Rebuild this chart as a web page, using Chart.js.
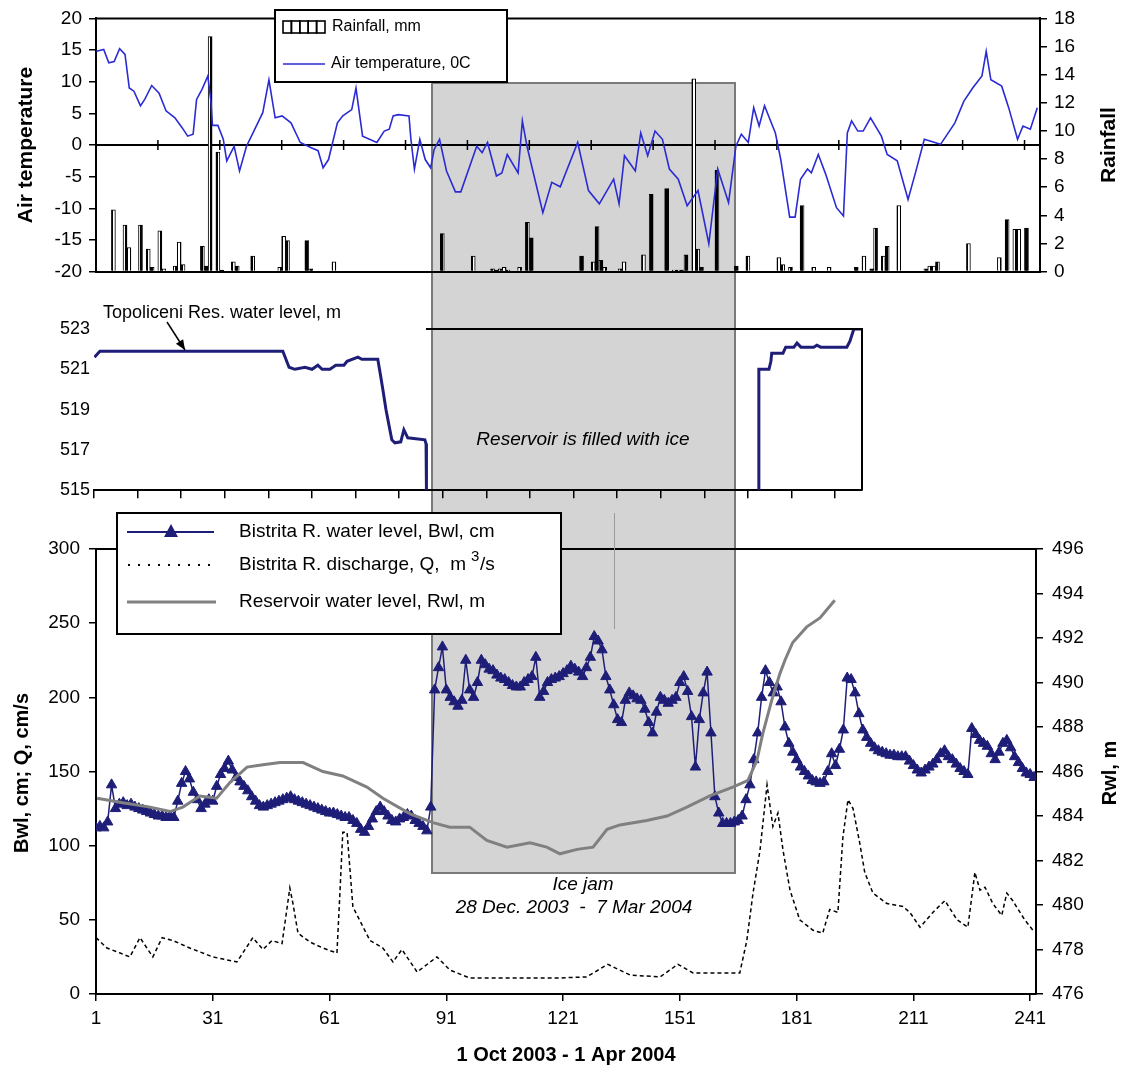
<!DOCTYPE html>
<html>
<head>
<meta charset="utf-8">
<script src="https://cdn.jsdelivr.net/npm/chart.js@4.4.0/dist/chart.umd.min.js"></script>
<style>
  body { margin: 0; background: #fff; width: 1123px; height: 1074px; position: relative; overflow: hidden; }
  canvas { position: absolute; left: 0; }
  #topChart { top: 0; }
  #midChart { top: 290px; }
  #botChart { top: 505px; }
</style>
</head>
<body>
<canvas id="topChart" width="1123" height="290"></canvas>
<canvas id="midChart" width="1123" height="215"></canvas>
<canvas id="botChart" width="1123" height="569"></canvas>
<script>
// ---------- data (days counted from 1 Oct 2003) ----------
const tempDays = [0.6, 2.5, 3.8, 5.2, 6.6, 8, 9.1, 10.3, 12, 13.1, 14.9, 16.8, 18.6, 20.9, 22.8, 24.2, 25.6, 26.5, 27.9, 29.4,
  30.2, 30.6, 32, 33.4, 34.3, 36.2, 37.6, 39.4, 41.3, 43.6, 45.2, 46.8, 48.6, 50.9, 53.3, 56, 57.9, 59.2, 60.6, 62.9,
  64.3, 66.6, 67.7, 69.4, 73.1, 75, 76.3, 77.3, 78.6, 81.4, 81.9, 82.8, 84.2, 85.6, 87, 87.9, 89.3, 91.1, 93.4, 94.8,
  98.9, 100.3, 101.7, 104, 105.4, 106.8, 109.6, 110.7, 111.9, 113.3, 116, 118.3, 120.5, 125, 127.8, 130.6, 134.3, 135.7, 137.1, 139.9,
  141.3, 143.1, 145, 146.9, 148.7, 151, 153.3, 156.1, 158.9, 161.2, 164, 165.9, 167.3, 169.1, 170.5, 171.9, 173.3, 176.1, 177.5, 179.8,
  181.2, 182.6, 184.4, 185.4, 187.2, 189.1, 191.9, 193.7, 194.7, 195.8, 197.4, 198.8, 200.7, 203.5, 205, 207.6, 210.4, 212.3, 214.6, 218.8,
  222.5, 224.8, 227.1, 229.5, 230.6, 231.8, 234.6, 236.4, 238.7, 240.1, 242, 243.8];
const tempValues = [14.8, 15.1, 13.0, 13.2, 15.2, 14.3, 9.0, 8.5, 6.2, 7.2, 9.4, 8.2, 5.4, 4.3, 2.7, 1.4, 1.7, 7.2, 8.8, 10.9,
  6.9, 3.1, 3.1, 0.9, -2.5, -0.2, -4.1, -0.2, 2.2, 5.1, 10.3, 4.3, 4.6, 3.5, 0.4, -0.4, -0.9, -3.6, -2.3, 3.5,
  4.6, 5.6, 9.0, 1.4, 0.4, 2.2, 2.5, 4.6, 4.8, 4.6, 0.9, -3.8, 0.9, -2.3, -3.6, -0.7, 0.9, -4.1, -7.4, -7.4,
  -0.2, -1.2, 0.4, -4.9, -4.4, -1.5, -4.4, 3.8, -0.2, -3.8, -10.7, -5.9, -6.6, 0.4, -7.2, -9.3, -5.4, -9.3, -1.7, -4.1,
  1.9, -1.7, 2.2, 0.9, -3.8, -5.4, -9.6, -7.2, -15.6, -3.8, -9.1, -0.2, 1.7, 0.4, 5.9, 3.0, 6.2, 1.9, -2.3, -11.4,
  -11.4, -5.4, -3.8, -4.4, -1.5, -4.6, -9.9, -11.2, 1.9, 3.8, 2.2, 2.2, 4.3, 1.4, -1.5, -2.5, -8.6, -4.4, 0.9, 0.1,
  3.5, 6.9, 9.0, 10.9, 14.8, 10.3, 9.3, 5.9, 0.9, 3.0, 2.5, 5.9];

const rainDays = [5, 8, 9, 12, 14, 15, 17, 18, 21, 22, 23, 28, 29, 30, 32, 33, 36, 37, 41, 48,
  49, 50, 55, 56, 62, 90, 98, 103, 104, 105, 106, 107, 110, 112, 113, 126, 129, 130, 131, 132,
  136, 137, 142, 144, 148, 150, 151, 152, 153, 155, 156, 157, 161, 166, 169, 177, 178, 180, 183, 186,
  190, 197, 199, 201, 202, 204, 205, 208, 215, 216, 217, 218, 226, 234, 236, 238, 239, 241];
const rainValues = [4.4, 3.3, 1.7, 3.3, 1.6, 0.3, 2.9, 0.2, 0.4, 2.1, 0.5, 1.8, 0.4, 16.7, 8.5, 0.1, 0.7, 0.4, 1.1, 0.3,
  2.5, 2.2, 2.2, 0.2, 0.7, 2.7, 1.1, 0.2, 0.1, 0.2, 0.3, 0.1, 0.3, 3.5, 2.4, 1.1, 0.7, 3.2, 0.8, 0.3,
  0.2, 0.7, 1.2, 5.5, 5.9, 0.1, 0.1, 0.1, 1.2, 13.7, 1.6, 0.3, 7.2, 0.4, 1.1, 1.0, 0.5, 0.3, 4.7, 0.3,
  0.3, 0.3, 1.1, 0.2, 3.1, 1.1, 1.8, 4.7, 0.2, 0.4, 0.4, 0.7, 2.0, 1.0, 3.7, 3.0, 3.0, 3.1];

// Topoliceni reservoir level; null = reservoir filled with ice (no reading)
const topoDays = [0.6, 2.0, 49.0, 49.8, 50.6, 52.1, 54.7, 56.5, 58.0, 59.1, 61.1, 62.6, 64.7, 65.5, 68.3, 69.3, 73.4, 74.1, 74.7, 75.5,
  76.3, 77.0, 77.8, 79.3, 80.1, 81.1, 85.5, 85.8, 85.9, 120, 171.1, 171.3, 173.9, 174.4, 174.6, 177.5, 178.2, 180.3, 181.1, 182.1,
  185.4, 186.2, 187.2, 193.9, 194.7, 195.7, 197.8];
const topoLevel = [521.6, 521.9, 521.9, 521.5, 521.1, 521.0, 521.1, 521.0, 521.2, 521.0, 521.0, 521.2, 521.2, 521.4, 521.6, 521.5, 521.5, 520.7, 520.0, 519.0,
  518.2, 517.5, 517.35, 517.4, 518.0, 517.6, 517.5, 517.3, 515, null, 515, 521.0, 521.0, 521.4, 521.8, 521.8, 522.1, 522.1, 522.3, 522.1,
  522.1, 522.2, 522.1, 522.1, 522.4, 523.0, 523.0];

// Bistrita R. water level, one value per day starting at day 1
const bwlValues = [112, 113, 112, 116, 141, 125, 128, 129, 127, 128,
  126, 125, 124, 123, 122, 121, 120, 120, 119, 120,
  119, 130, 142, 150, 145, 136, 131, 125, 128, 131,
  130, 140, 148, 152, 157, 151, 146, 143, 140, 137,
  133, 130, 127, 126, 127, 128, 129, 130, 131, 132,
  133, 131, 130, 129, 128, 127, 126, 125, 124, 123,
  122, 122, 121, 120, 119, 119, 117, 115, 111, 109,
  113, 118, 123, 126, 123, 120, 117, 116, 118, 119,
  121, 120, 117, 115, 113, 110, 126, 205, 220, 234,
  205, 200, 197, 194, 198, 225, 205, 200, 210, 225,
  222, 219, 218, 215, 213, 212, 210, 208, 207, 207,
  210, 212, 214, 227, 200, 204, 210, 212, 213, 214,
  216, 218, 221, 219, 217, 214, 220, 227, 241, 238,
  232, 214, 205, 195, 185, 183, 198, 203, 201, 199,
  198, 192, 183, 176, 190, 200, 198, 196, 198, 200,
  210, 214, 204, 187, 153, 185, 203, 217, 176, 133,
  122, 115, 115, 115, 116, 117, 120, 131, 141, 158,
  176, 200, 218, 210, 203, 207, 197, 180, 169, 163,
  158, 153, 150, 147, 144, 143, 142, 143, 150, 162,
  154, 165, 178, 213, 212, 203, 189, 178, 173, 169,
  166, 164, 163, 162, 161, 161, 160, 160, 160, 157,
  154, 151, 149, 151, 153, 155, 158, 162, 164, 160,
  158, 155, 152, 150, 148, 179, 175, 171, 169, 167,
  162, 158, 163, 169, 171, 166, 160, 156, 152, 149,
  148, 146];

const qDays = [1, 3.8, 7.2, 9.7, 12.3, 15.6, 18, 20.8, 25.1, 31, 37.2, 41.3, 43.9, 46.2, 48.8, 50.8, 51.6, 52.9, 56, 59.3,
  62.9, 63.7, 64.4, 65.5, 67, 71.4, 74.7, 77.3, 79.6, 83.5, 88.6, 91.9, 97, 120, 127, 132.5, 138.2, 145.9, 150.5, 154.4,
  166.4, 168.2, 169.8, 171.6, 173.4, 174.9, 176.2, 177.5, 179.3, 181.8, 185.2, 187.7, 189.5, 191.6, 192.9, 194.2, 195.5, 197.2, 198.5, 200.6,
  204.2, 208.3, 210.1, 212.7, 216, 219.1, 222.2, 225, 226.8, 228.1, 229.4, 231.4, 233.7, 235, 236.5, 239.6, 241.7];
const qValues = [38, 31, 27.6, 25, 38, 25, 38, 36, 31, 25, 21.6, 38, 30, 36, 34, 71.5, 61, 41, 35, 31,
  27.6, 70, 109, 109, 58.7, 36, 31, 21.6, 30, 14.8, 25, 16.2, 10.8, 10.8, 11.5, 20, 12.8, 11.5, 20, 14.2,
  14.2, 36, 68, 97, 141, 113, 122, 97, 70, 50, 43, 41, 57, 55, 106, 131, 125, 102, 82, 68,
  61, 59, 55, 45, 55, 63, 50, 45, 82, 70, 72, 61, 53, 68, 63, 50, 43];

const rwlDays = [1.3, 7.9, 14.9, 20, 23.3, 27.7, 32, 35.4, 39.8, 43.9, 48.3, 54.2, 59.3, 64.4, 70.6, 74.7, 81.7, 87.6, 91.9, 97,
  101.4, 106.6, 112.5, 116.8, 120.2, 124.6, 128.7, 132.3, 135.6, 142.5, 147.7, 152.8, 158.7, 164.6, 168.5, 170.8, 172.3, 174.6, 176.7, 178,
  180, 183.6, 187, 190.8];
const rwlValues = [484.8, 484.6, 484.4, 484.2, 484.4, 484.9, 484.8, 485.5, 486.2, 486.3, 486.4, 486.4, 486.0, 485.8, 485.3, 484.8, 484.1, 483.7, 483.5, 483.5,
  482.9, 482.6, 482.8, 482.6, 482.3, 482.5, 482.6, 483.4, 483.6, 483.8, 484.0, 484.4, 484.9, 485.3, 485.6, 486.5, 487.7, 489.2, 490.4, 491.0,
  491.8, 492.5, 492.9, 493.7];

const xTickLabels = [1, 31, 61, 91, 121, 151, 181, 211, 241];

// ---------- shared styling ----------
const FONT = "'Liberation Sans', Arial, sans-serif";
const NAVY = '#1e1e78';
const TEMP_BLUE = '#2b2bd4';
const ICE_BOX = { x: 432, y: 83, w: 303, h: 790 };

function pts(xs, ys) {
  return xs.map((x, i) => ({ x: x, y: ys[i] }));
}

function say(ctx, str, x, y, opts) {
  opts = opts || {};
  ctx.save();
  ctx.font = opts.font || ('19px ' + FONT);
  ctx.fillStyle = opts.color || '#000';
  ctx.textAlign = opts.align || 'left';
  ctx.textBaseline = 'middle';
  ctx.translate(x, y);
  if (opts.rot) ctx.rotate(opts.rot);
  ctx.fillText(str, 0, 0);
  ctx.restore();
}

// grey "ice jam" box, drawn in page coordinates under everything
function iceBox(offsetY) {
  return {
    id: 'iceBox',
    beforeDraw(chart) {
      const c = chart.ctx;
      c.save();
      c.fillStyle = '#d4d4d4';
      c.fillRect(ICE_BOX.x, ICE_BOX.y - offsetY, ICE_BOX.w, ICE_BOX.h);
      c.strokeStyle = '#7a7a7a';
      c.lineWidth = 2;
      c.strokeRect(ICE_BOX.x, ICE_BOX.y - offsetY, ICE_BOX.w, ICE_BOX.h);
      c.restore();
    }
  };
}

function blackAxis(extra) {
  return Object.assign({
    border: { color: '#000', width: 2 },
    grid: { drawOnChartArea: false, tickLength: 7, color: '#000', lineWidth: 1.5 },
  }, extra);
}

// vertical hatch for rainfall bars (mostly dark, thin light gaps)
const hatchCanvas = document.createElement('canvas');
hatchCanvas.width = 5; hatchCanvas.height = 4;
const hctx = hatchCanvas.getContext('2d');
hctx.fillStyle = '#fff'; hctx.fillRect(0, 0, 5, 4);
hctx.fillStyle = '#000'; hctx.fillRect(0, 0, 3, 4);

// ---------- top panel: air temperature + rainfall ----------
const topCanvas = document.getElementById('topChart');
const hatch = topCanvas.getContext('2d').createPattern(hatchCanvas, 'repeat');

const topDecor = {
  id: 'topDecor',
  beforeDatasetsDraw(chart) {
    const { ctx, chartArea: a, scales } = chart;
    const y0 = scales.yT.getPixelForValue(0);
    ctx.save();
    ctx.strokeStyle = '#000';
    ctx.lineWidth = 2;
    ctx.beginPath();
    ctx.moveTo(a.left, y0); ctx.lineTo(a.right, y0);
    ctx.moveTo(a.left, a.top); ctx.lineTo(a.right, a.top);
    ctx.stroke();
    ctx.lineWidth = 1.5;
    ctx.beginPath();
    for (let d = 16.5; d < 244; d += 16) {
      const x = scales.x.getPixelForValue(d);
      ctx.moveTo(x, y0 - 5); ctx.lineTo(x, y0 + 5);
    }
    ctx.stroke();
    ctx.restore();
  },
  afterDraw(chart) {
    const ctx = chart.ctx;
    // legend
    ctx.save();
    ctx.fillStyle = '#fff';
    ctx.fillRect(275, 10, 232, 72);
    ctx.strokeStyle = '#000';
    ctx.lineWidth = 2;
    ctx.strokeRect(275, 10, 232, 72);
    ctx.lineWidth = 1.6;
    for (let i = 0; i < 5; i++) ctx.strokeRect(283 + i * 8.4, 21, 8.4, 12);
    ctx.strokeStyle = TEMP_BLUE;
    ctx.lineWidth = 1.6;
    ctx.beginPath(); ctx.moveTo(283, 64); ctx.lineTo(325, 64); ctx.stroke();
    ctx.restore();
    say(ctx, 'Rainfall, mm', 332, 27, { font: '16px ' + FONT });
    say(ctx, 'Air temperature, 0C', 331, 64, { font: '16px ' + FONT });
    // axis titles
    say(ctx, 'Air temperature', 26, 145, { font: 'bold 21px ' + FONT, align: 'center', rot: -Math.PI / 2 });
    say(ctx, 'Rainfall', 1109, 145, { font: 'bold 21px ' + FONT, align: 'center', rot: -Math.PI / 2 });
  }
};

new Chart(topCanvas, {
  type: 'line',
  data: {
    datasets: [
      {
        label: 'Air temperature, 0C',
        data: pts(tempDays, tempValues),
        yAxisID: 'yT',
        borderColor: TEMP_BLUE,
        borderWidth: 1.6,
        pointRadius: 0,
        tension: 0,
        order: 1
      },
      {
        type: 'bar',
        label: 'Rainfall, mm',
        data: pts(rainDays, rainValues),
        yAxisID: 'yR',
        backgroundColor: hatch,
        borderColor: '#000',
        borderWidth: 1,
        barThickness: 4,
        grouped: false,
        order: 2
      }
    ]
  },
  options: {
    responsive: false,
    animation: false,
    devicePixelRatio: 1,
    layout: { padding: { top: 18, left: 0, right: 0, bottom: 0 } },
    plugins: { legend: { display: false }, tooltip: { enabled: false } },
    scales: {
      x: {
        type: 'linear', min: 0.5, max: 244.5, offset: false,
        ticks: { display: false },
        grid: { display: false },
        border: { color: '#000', width: 2 },
        afterFit(s) { s.height = 18; }
      },
      yT: blackAxis({
        position: 'left', min: -20, max: 20,
        ticks: { stepSize: 5, color: '#000', font: { family: FONT, size: 19 }, padding: 7 },
        afterFit(s) { s.width = 96; }
      }),
      yR: blackAxis({
        position: 'right', min: 0, max: 18,
        ticks: { stepSize: 2, color: '#000', font: { family: FONT, size: 19 }, padding: 7 },
        afterFit(s) { s.width = 83; }
      })
    }
  },
  plugins: [iceBox(0), topDecor]
});

// ---------- middle panel: Topoliceni reservoir ----------
const midDecor = {
  id: 'midDecor',
  afterDraw(chart) {
    const { ctx, chartArea: a } = chart;
    ctx.save();
    ctx.strokeStyle = '#000';
    ctx.lineWidth = 2;
    ctx.beginPath();
    ctx.moveTo(426, a.top); ctx.lineTo(a.right, a.top); ctx.lineTo(a.right, a.bottom);
    ctx.stroke();
    // arrow to the level line
    const tipX = 185, tipY = 60;
    ctx.lineWidth = 1.5;
    ctx.beginPath(); ctx.moveTo(167, 32); ctx.lineTo(tipX, tipY); ctx.stroke();
    const ang = Math.atan2(tipY - 32, tipX - 167);
    ctx.fillStyle = '#000';
    ctx.beginPath();
    ctx.moveTo(tipX, tipY);
    ctx.lineTo(tipX - 11 * Math.cos(ang - 0.4), tipY - 11 * Math.sin(ang - 0.4));
    ctx.lineTo(tipX - 11 * Math.cos(ang + 0.4), tipY - 11 * Math.sin(ang + 0.4));
    ctx.closePath(); ctx.fill();
    ctx.restore();
    say(ctx, 'Topoliceni Res. water level, m', 103, 23, { font: '18px ' + FONT });
    say(ctx, 'Reservoir is filled with ice', 583, 150, { font: 'italic 19px ' + FONT, align: 'center' });
  }
};

new Chart(document.getElementById('midChart'), {
  type: 'line',
  data: {
    datasets: [{
      label: 'Topoliceni Res. water level, m',
      data: pts(topoDays, topoLevel),
      borderColor: NAVY,
      borderWidth: 3,
      pointRadius: 0,
      spanGaps: false,
      tension: 0
    }]
  },
  options: {
    responsive: false,
    animation: false,
    devicePixelRatio: 1,
    layout: { padding: { top: 39, left: 0, right: 261, bottom: 0 } },
    plugins: { legend: { display: false }, tooltip: { enabled: false } },
    scales: {
      x: {
        type: 'linear', min: 0.49, max: 197.8,
        ticks: { display: false },
        border: { color: '#000', width: 2 },
        grid: { drawOnChartArea: false, tickLength: 8, color: '#000', lineWidth: 1.5 },
        afterBuildTicks(s) {
          const t = [];
          for (let k = 0; k < 18; k++) t.push({ value: 0.49 + 11.2 * k });
          s.ticks = t;
        },
        afterFit(s) { s.height = 12; }
      },
      y: {
        position: 'left', min: 515, max: 523,
        ticks: { stepSize: 2, color: '#000', font: { family: FONT, size: 18 }, padding: 4 },
        grid: { display: false, drawTicks: false },
        border: { display: false },
        afterFit(s) { s.width = 94; }
      }
    }
  },
  plugins: [iceBox(290), midDecor]
});

// ---------- bottom panel: Bistrita river ----------
const botDecor = {
  id: 'botDecor',
  beforeDatasetsDraw(chart) {
    const { ctx, chartArea: a } = chart;
    ctx.save();
    ctx.strokeStyle = '#000';
    ctx.lineWidth = 2;
    ctx.beginPath(); ctx.moveTo(a.left, a.top); ctx.lineTo(a.right, a.top); ctx.stroke();
    ctx.strokeStyle = '#9a9a9a';
    ctx.lineWidth = 1;
    ctx.beginPath(); ctx.moveTo(614.5, 8); ctx.lineTo(614.5, 124); ctx.stroke();
    ctx.restore();
  },
  afterDraw(chart) {
    const ctx = chart.ctx;
    ctx.save();
    ctx.fillStyle = '#fff';
    ctx.fillRect(117, 8, 444, 121);
    ctx.strokeStyle = '#000';
    ctx.lineWidth = 2;
    ctx.strokeRect(117, 8, 444, 121);
    // Bwl entry
    ctx.strokeStyle = NAVY; ctx.lineWidth = 2;
    ctx.beginPath(); ctx.moveTo(127, 27); ctx.lineTo(214, 27); ctx.stroke();
    ctx.fillStyle = NAVY;
    ctx.beginPath(); ctx.moveTo(171, 19); ctx.lineTo(178, 32); ctx.lineTo(164, 32); ctx.closePath(); ctx.fill();
    // Q entry
    ctx.strokeStyle = '#000'; ctx.lineWidth = 2; ctx.setLineDash([2, 8]);
    ctx.beginPath(); ctx.moveTo(128, 60); ctx.lineTo(212, 60); ctx.stroke();
    ctx.setLineDash([]);
    // Rwl entry
    ctx.strokeStyle = '#808080'; ctx.lineWidth = 3;
    ctx.beginPath(); ctx.moveTo(127, 97); ctx.lineTo(216, 97); ctx.stroke();
    ctx.restore();
    const f = '19px ' + FONT;
    say(ctx, 'Bistrita R. water level, Bwl, cm', 239, 27, { font: f });
    const qText = 'Bistrita R. discharge, Q,  m';
    say(ctx, qText, 239, 60, { font: f });
    ctx.save(); ctx.font = f;
    const w = ctx.measureText(qText).width;
    ctx.restore();
    say(ctx, '3', 239 + w + 5, 52, { font: '15px ' + FONT });
    say(ctx, '/s', 239 + w + 14, 60, { font: f });
    say(ctx, 'Reservoir water level, Rwl, m', 239, 97, { font: f });
    // annotations and titles
    say(ctx, 'Ice jam', 583, 380, { font: 'italic 19px ' + FONT, align: 'center' });
    say(ctx, '28 Dec. 2003  -  7 Mar 2004', 574, 403, { font: 'italic 19px ' + FONT, align: 'center' });
    say(ctx, 'Bwl, cm; Q, cm/s', 22, 268, { font: 'bold 20px ' + FONT, align: 'center', rot: -Math.PI / 2 });
    say(ctx, 'Rwl, m', 1110, 268, { font: 'bold 20px ' + FONT, align: 'center', rot: -Math.PI / 2 });
    say(ctx, '1 Oct 2003 - 1 Apr 2004', 566, 550, { font: 'bold 20px ' + FONT, align: 'center' });
  }
};

new Chart(document.getElementById('botChart'), {
  type: 'line',
  data: {
    datasets: [
      {
        label: 'Reservoir water level, Rwl, m',
        data: pts(rwlDays, rwlValues),
        yAxisID: 'yR',
        borderColor: '#808080',
        borderWidth: 3,
        pointRadius: 0,
        tension: 0,
        order: 0
      },
      {
        label: 'Bistrita R. water level, Bwl, cm',
        data: bwlValues.map((v, i) => ({ x: i + 1, y: v })),
        yAxisID: 'yL',
        borderColor: NAVY,
        borderWidth: 1.5,
        pointStyle: 'triangle',
        pointRadius: 6,
        pointBackgroundColor: NAVY,
        pointBorderColor: NAVY,
        pointBorderWidth: 1,
        tension: 0,
        order: 1
      },
      {
        label: 'Bistrita R. discharge, Q, m3/s',
        data: pts(qDays, qValues),
        yAxisID: 'yL',
        borderColor: '#000',
        borderWidth: 1.5,
        borderDash: [4, 3],
        pointRadius: 0,
        tension: 0,
        order: 2
      }
    ]
  },
  options: {
    responsive: false,
    animation: false,
    devicePixelRatio: 1,
    layout: { padding: { top: 44, left: 0, right: 0, bottom: 0 } },
    plugins: { legend: { display: false }, tooltip: { enabled: false } },
    scales: {
      x: blackAxis({
        type: 'linear', min: 1, max: 242.5,
        ticks: { color: '#000', font: { family: FONT, size: 19 }, padding: 6, autoSkip: false, maxRotation: 0 },
        afterBuildTicks(s) { s.ticks = xTickLabels.map(v => ({ value: v })); },
        afterFit(s) { s.height = 80; }
      }),
      yL: blackAxis({
        position: 'left', min: 0, max: 300,
        ticks: { stepSize: 50, color: '#000', font: { family: FONT, size: 19 }, padding: 9 },
        afterFit(s) { s.width = 96; }
      }),
      yR: blackAxis({
        position: 'right', min: 476, max: 496,
        ticks: { stepSize: 2, color: '#000', font: { family: FONT, size: 19 }, padding: 9 },
        afterFit(s) { s.width = 87; }
      })
    }
  },
  plugins: [iceBox(505), botDecor]
});
</script>
</body>
</html>
